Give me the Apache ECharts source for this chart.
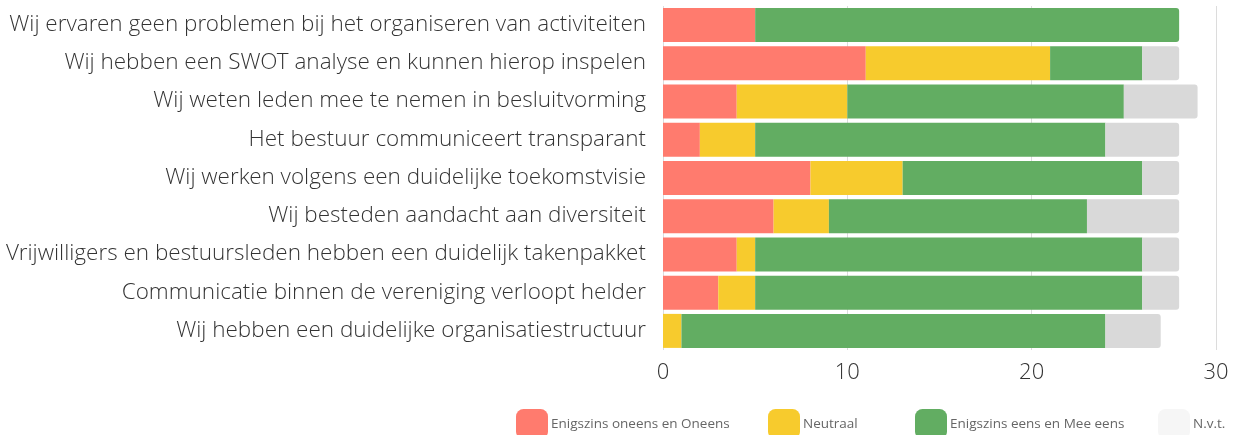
<!DOCTYPE html>
<html>
<head>
<meta charset="utf-8">
<script src="https://cdn.jsdelivr.net/npm/echarts@6/dist/echarts.min.js"></script>
<style>
html,body{margin:0;padding:0;background:#fff;}
#c{width:1236px;height:435px;}
</style>
</head>
<body>
<div id="c"></div>
<script>
const categories = [
  "Wij ervaren geen problemen bij het organiseren van activiteiten",
  "Wij hebben een SWOT analyse en kunnen hierop inspelen",
  "Wij weten leden mee te nemen in besluitvorming",
  "Het bestuur communiceert transparant",
  "Wij werken volgens een duidelijke toekomstvisie",
  "Wij besteden aandacht aan diversiteit",
  "Vrijwilligers en bestuursleden hebben een duidelijk takenpakket",
  "Communicatie binnen de vereniging verloopt helder",
  "Wij hebben een duidelijke organisatiestructuur"
];
const seriesNames = ["Enigszins oneens en Oneens", "Neutraal", "Enigszins eens en Mee eens", "N.v.t."];
const oneens = [5, 11, 4, 2, 8, 6, 4, 3, 0];
const neutraal = [0, 10, 6, 3, 5, 3, 1, 2, 1];
const eens = [23, 5, 15, 19, 13, 14, 21, 21, 23];
const nvt = [0, 2, 4, 4, 2, 5, 2, 2, 3];
const xTicks = [0, 10, 20, 30];

const colors = ["#FF7B6E", "#F7CB2D", "#62AD62", "#D9D9D9"];
const legendColors = ["#FF7B6E", "#F7CB2D", "#62AD62", "#F6F6F6"];
const values = [oneens, neutraal, eens, nvt];
const font = "'Open Sans Light', 'Open Sans', sans-serif";

const lastIdx = categories.map((_, r) => {
  let li = 0;
  values.forEach((v, s) => { if (v[r] > 0) li = s; });
  return li;
});

const series = values.map((vals, s) => ({
  name: seriesNames[s],
  type: 'bar',
  stack: 'total',
  barCategoryGap: '11%',
  itemStyle: { color: colors[s] },
  emphasis: { disabled: true },
  data: vals.map((v, r) => lastIdx[r] === s ? { value: v, itemStyle: { borderRadius: [0, 3, 3, 0] } } : v)
}));

const legendLefts = [516, 768, 915, 1158];
const legends = seriesNames.map((n, i) => ({
  left: legendLefts[i],
  top: 409,
  padding: 0,
  itemWidth: 32,
  itemHeight: 30,
  itemGap: 4,
  icon: 'roundRect',
  textStyle: { fontFamily: "'Open Sans', sans-serif", fontSize: 13.5, color: '#666', padding: [0, 0, 0, -2] },
  data: [{ name: n, itemStyle: { color: legendColors[i] } }],
  selectedMode: false
}));

const chart = echarts.init(document.getElementById('c'), null, { renderer: 'canvas' });
chart.setOption({
  animation: false,
  grid: { left: 663, right: 20, top: 6, bottom: 85, containLabel: false },
  legend: legends,
  xAxis: {
    type: 'value',
    min: 0, max: 30, interval: 10,
    axisLine: { show: false },
    axisTick: { show: false },
    splitLine: { show: true, lineStyle: { color: '#dcdcdc', width: 1 } },
    axisLabel: {
      fontFamily: font, fontSize: 22, fontWeight: 300, color: '#333', margin: 12,
      formatter: v => xTicks.includes(v) ? String(v) : ''
    }
  },
  yAxis: {
    type: 'category',
    inverse: true,
    data: categories,
    axisLine: { show: false },
    axisTick: { show: false },
    axisLabel: { fontFamily: font, fontSize: 22.5, fontWeight: 300, color: '#333', margin: 17 }
  },
  series: series
});
</script>
</body>
</html>
